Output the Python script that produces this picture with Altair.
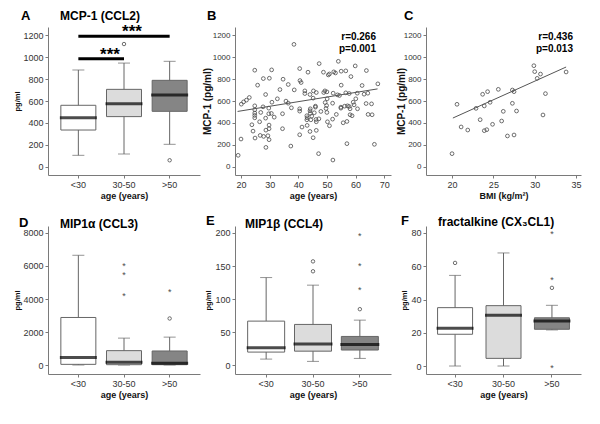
import altair as alt
import pandas as pd

FONT = "Liberation Sans"
AXC = "#7a7a7a"
STROKE = "#666666"
PT = "#4a4a4a"

groups = ["<30", "30-50", ">50"]
box_fills = ["#ffffff", "#dcdcdc", "#858585"]

# ---------------- Panel A: MCP-1 (CCL2) by age group ----------------
a_wlo = [106, 118, 206]
a_q1 = [336, 458, 506]
a_med = [448, 576, 655]
a_q3 = [561, 706, 788]
a_whi = [882, 945, 961]
a_out_group = ["30-50", ">50"]
a_out_val = [1118, 61]
sig_from = ["<30", "<30"]
sig_to = ["30-50", ">50"]
sig_y = [985, 1188]
sig_text = ["***", "***"]
sig_text_at = ["30-50", "30-50"]

# ---------------- Panel B: MCP-1 vs age ----------------
b_age = [19.0, 20.0, 20.1, 20.9, 21.9, 22.9, 24.8, 25.8, 23.8, 24.2, 24.9, 24.8, 24.8, 24.8,
         24.8, 24.8, 26.9, 26.5, 26.7, 27.7, 27.8, 28.6, 28.6, 28.7, 28.7, 27.9, 29.4, 29.9,
         29.7, 29.7, 29.8, 29.8, 29.8, 30.7, 30.8, 30.6, 31.6, 32.7, 33.6, 34.7, 34.5, 34.5,
         35.7, 36.5, 36.5, 37.4, 38.5, 38.6, 37.6, 40.5, 40.6, 41.0, 40.5, 40.5, 40.5, 41.3,
         42.3, 42.3, 43.4, 43.0, 43.1, 43.0, 43.1, 44.1, 44.1, 44.2, 44.2, 44.1, 44.4, 44.7,
         45.3, 45.2, 45.2, 45.6, 46.0, 46.0, 46.3, 46.2, 46.3, 46.3, 47.2, 47.1, 47.3, 47.9,
         48.8, 48.9, 49.3, 49.4, 49.7, 50.0, 50.1, 50.5, 50.9, 50.2, 50.9, 50.0, 49.9, 52.2,
         52.0, 52.0, 52.1, 52.4, 53.0, 53.3, 53.7, 54.0, 54.4, 55.0, 55.0, 54.9, 54.9, 55.7,
         56.2, 56.6, 56.6, 57.0, 57.2, 57.0, 57.8, 57.8, 58.1, 58.1, 58.8, 58.4, 59.2, 59.5,
         59.9, 60.1, 60.7, 60.6, 62.3, 63.0, 63.8, 63.7, 64.3, 64.4, 65.6, 65.8, 66.6, 67.8]
b_mcp = [106, 254, 571, 592, 608, 632, 880, 744, 384, 326, 263, 556, 520, 490,
         469, 447, 496, 411, 287, 547, 804, 659, 444, 335, 178, 278, 284, 807,
         535, 484, 381, 348, 248, 883, 589, 487, 453, 620, 704, 798, 484, 348,
         599, 580, 750, 190, 1115, 701, 538, 895, 786, 768, 529, 508, 293, 363,
         692, 668, 862, 466, 447, 429, 378, 659, 511, 529, 487, 323, 429, 462,
         692, 626, 266, 493, 553, 544, 677, 432, 411, 333, 438, 121, 940, 505,
         862, 677, 692, 586, 532, 683, 620, 837, 846, 411, 375, 496, 559, 671,
         580, 435, 63, 865, 855, 478, 656, 961, 650, 871, 744, 535, 544, 402,
         553, 874, 674, 212, 556, 414, 668, 550, 529, 475, 466, 822, 589, 565,
         919, 620, 529, 671, 741, 662, 877, 577, 671, 478, 574, 475, 206, 756]
b_fit_age = [18.8, 67.7]
b_fit_mcp = [505, 710]
b_stats = ["r=0.266", "p=0.001"]

# ---------------- Panel C: MCP-1 vs BMI ----------------
c_bmi = [20.0, 20.6, 21.1, 21.9, 22.9, 23.4, 23.7, 23.9, 23.9, 24.2, 24.3, 24.6, 24.9, 25.6,
         26.2, 26.0, 26.7, 27.3, 27.5, 27.3, 27.5, 27.8, 29.9, 30.0, 30.3, 30.7, 31.0, 31.3, 33.8]
c_mcp = [121, 570, 364, 336, 533, 430, 661, 555, 330, 339, 685, 588, 388, 706,
         506, 418, 282, 700, 685, 579, 291, 509, 921, 867, 806, 845, 473, 667, 864]
c_fit_bmi = [20.1, 33.8]
c_fit_mcp = [445, 909]
c_stats = ["r=0.436", "p=0.013"]

# ---------------- Panel D: MIP1a (CCL3) ----------------
d_wlo = [0, 0, 0]
d_q1 = [40, 20, 20]
d_med = [460, 160, 100]
d_q3 = [2880, 870, 850]
d_whi = [6650, 1630, 1690]
d_out_group = [">50"]
d_out_val = [2820]
d_ext_group = ["30-50", "30-50", "30-50", ">50"]
d_ext_val = [6110, 5600, 4330, 4560]

# ---------------- Panel E: MIP1b (CCL4) ----------------
e_wlo = [9, 5.5, 10]
e_q1 = [19.6, 21, 22.7]
e_med = [26, 32, 31]
e_q3 = [66.5, 61.5, 43.3]
e_whi = [132.5, 121, 68]
e_out_group = ["30-50", "30-50", ">50"]
e_out_val = [157, 142, 84.6]
e_ext_group = [">50", ">50", ">50"]
e_ext_val = [199, 152.6, 116.4]

# ---------------- Panel F: fractalkine (CX3CL1) ----------------
f_wlo = [0, 0, 21.7]
f_q1 = [19.1, 4.6, 22.1]
f_med = [22.7, 30.5, 27.1]
f_q3 = [35.1, 36.3, 29.0]
f_whi = [54.5, 68, 36.5]
f_out_group = ["<30", ">50"]
f_out_val = [62, 47]
f_ext_group = [">50", ">50", ">50"]
f_ext_val = [80.5, 53, 0]


def label_layers(letter, lx, ly, title, tx, ty):
    lab = alt.Chart(pd.DataFrame({"t": [letter]})).mark_text(
        font=FONT, fontSize=13, fontWeight="bold", align="left", baseline="alphabetic", color="#000"
    ).encode(text="t:N", x=alt.value(lx), y=alt.value(ly))
    layers = [lab]
    if title:
        tt = alt.Chart(pd.DataFrame({"t": [title]})).mark_text(
            font=FONT, fontSize=12, fontWeight="bold", align="left", baseline="alphabetic", color="#000"
        ).encode(text="t:N", x=alt.value(tx), y=alt.value(ty))
        layers.append(tt)
    return layers


def x_band(field, pad_out=0.315):
    return alt.X(f"{field}:N", sort=groups,
                 scale=alt.Scale(domain=groups, paddingInner=0.3, paddingOuter=pad_out),
                 axis=alt.Axis(title="age (years)", labelAngle=0))


def box_panel(letter, lx, ly, title, tx, ty, wlo, q1, med, q3, whi, out_g, out_v, ext_g, ext_v,
              ydom, yticks, width, ytx, box_w, pad_out=0.315, extra=None):
    df = pd.DataFrame({"group": groups, "wlo": wlo, "q1": q1, "med": med, "q3": q3, "whi": whi})
    X = x_band("group", pad_out)
    ys = alt.Scale(domain=ydom, nice=False, zero=False)
    yax = alt.Axis(values=yticks, format="d", title="pg/ml", titleX=ytx, titleFontSize=7.5, labelFontSize=9)

    def Y(f):
        return alt.Y(f"{f}:Q", scale=ys, axis=yax)

    base = alt.Chart(df)
    whisk = base.mark_rule(color=STROKE, strokeWidth=1).encode(x=X, y=Y("wlo"), y2="whi:Q")
    cap_lo = base.mark_tick(color=STROKE, size=12, thickness=1).encode(x=X, y=Y("wlo"))
    cap_hi = base.mark_tick(color=STROKE, size=12, thickness=1).encode(x=X, y=Y("whi"))
    box = base.mark_bar(size=box_w, stroke=STROKE, strokeWidth=1).encode(
        x=X, y=Y("q1"), y2="q3:Q",
        color=alt.Color("group:N", scale=alt.Scale(domain=groups, range=box_fills), legend=None))
    medl = base.mark_tick(color="#000", size=box_w + 2, thickness=3).encode(x=X, y=Y("med"))
    layers = [whisk, cap_lo, cap_hi, box, medl]
    if out_g:
        odf = pd.DataFrame({"group": out_g, "v": out_v})
        layers.append(alt.Chart(odf).mark_point(shape="circle", filled=False, size=12, color=PT,
                                                 strokeWidth=0.8, opacity=1).encode(x=X, y=Y("v")))
    if ext_g:
        edf = pd.DataFrame({"group": ext_g, "v": ext_v})
        layers.append(alt.Chart(edf).mark_text(text="*", font=FONT, fontSize=9, color=PT,
                                                baseline="middle", dy=2).encode(x=X, y=Y("v")))
    if extra:
        layers += extra(Y)
    layers += label_layers(letter, lx, ly, title, tx, ty)
    return alt.layer(*layers).properties(width=width, height=148)


def sig_layers(Y):
    sdf = pd.DataFrame({"g1": sig_from, "g2": sig_to, "sy": sig_y, "t": sig_text, "ga": sig_text_at})
    rule = alt.Chart(sdf).mark_rule(color="#000", strokeWidth=3).encode(
        x=alt.X("g1:N", bandPosition=0.5, sort=groups,
                scale=alt.Scale(domain=groups, paddingInner=0.3, paddingOuter=0.315),
                axis=alt.Axis(title="age (years)", labelAngle=0)),
        x2=alt.X2("g2:N", bandPosition=0.5),
        y=Y("sy"))
    s1 = alt.Chart(sdf.iloc[[0]]).mark_text(font=FONT, fontSize=17, fontWeight="bold", color="#000",
                                            baseline="alphabetic", dx=-14, dy=1).encode(
        x=x_band("ga"), y=Y("sy"), text="t:N")
    s2 = alt.Chart(sdf.iloc[[1]]).mark_text(font=FONT, fontSize=17, fontWeight="bold", color="#000",
                                            baseline="alphabetic", dx=8, dy=1).encode(
        x=x_band("ga"), y=Y("sy"), text="t:N")
    return [rule, s1, s2]


def scatter_panel(letter, lx, ly, xs, ys, fx, fy, stats, xdom, xticks, xtitle, width, ytx, sx):
    df = pd.DataFrame({"x": xs, "y": ys})
    xsc = alt.Scale(domain=xdom, nice=False, zero=False)
    ysc = alt.Scale(domain=[-73, 1273], nice=False, zero=False)
    xax = alt.Axis(values=xticks, format="d", title=xtitle)
    yax = alt.Axis(values=[0, 200, 400, 600, 800, 1000, 1200], format="d", title="MCP-1 (pg/ml)",
                   titleX=ytx, titleFontSize=10, labelFontSize=8)
    pts = alt.Chart(df).mark_point(shape="circle", filled=False, size=14, color=PT, strokeWidth=0.8,
                                   opacity=1).encode(
        x=alt.X("x:Q", scale=xsc, axis=xax), y=alt.Y("y:Q", scale=ysc, axis=yax))
    fdf = pd.DataFrame({"x": fx, "y": fy})
    fit = alt.Chart(fdf).mark_line(color="#555", strokeWidth=1).encode(
        x=alt.X("x:Q", scale=xsc, axis=xax), y=alt.Y("y:Q", scale=ysc, axis=yax))
    st1 = alt.Chart(pd.DataFrame({"t": [stats[0]]})).mark_text(
        font=FONT, fontSize=10, fontWeight="bold", align="right", baseline="alphabetic", color="#000").encode(
        text="t:N", x=alt.value(sx), y=alt.value(13))
    st2 = alt.Chart(pd.DataFrame({"t": [stats[1]]})).mark_text(
        font=FONT, fontSize=10, fontWeight="bold", align="right", baseline="alphabetic", color="#000").encode(
        text="t:N", x=alt.value(sx), y=alt.value(25))
    layers = [pts, fit, st1, st2] + label_layers(letter, lx, ly, None, 0, 0)
    return alt.layer(*layers).properties(width=width, height=148)


pA = box_panel("A", -27, -7.5, "MCP-1 (CCL2)", 12, -7.5, a_wlo, a_q1, a_med, a_q3, a_whi,
               a_out_group, a_out_val, None, None, [-73, 1273], [0, 200, 400, 600, 800, 1000, 1200],
               152, -27, 35, extra=sig_layers)
pB = scatter_panel("B", -28, -7.5, b_age, b_mcp, b_fit_age, b_fit_mcp, b_stats, [17.9, 72.4],
                   [20, 30, 40, 50, 60, 70], "age (years)", 156, -23, 141)
pC = scatter_panel("C", -22, -7.5, c_bmi, c_mcp, c_fit_bmi, c_fit_mcp, c_stats, [16.85, 35.6],
                   [20, 25, 30, 35], "BMI (kg/m²)", 155, -20, 147)
pD = box_panel("D", -29, 1, "MIP1α (CCL3)", 12, 2, d_wlo, d_q1, d_med, d_q3, d_whi,
               d_out_group, d_out_val, d_ext_group, d_ext_val, [-545, 8424], [0, 2000, 4000, 6000, 8000],
               152, -27, 35)
pE = box_panel("E", -29, -1, "MIP1β (CCL4)", 10, 2, e_wlo, e_q1, e_med, e_q3, e_whi,
               e_out_group, e_out_val, e_ext_group, e_ext_val, [-13.6, 210.6], [0, 50, 100, 150, 200],
               156, -23, 37)
pF = box_panel("F", -25, -1, "fractalkine (CX₃CL1)", 12, 0, f_wlo, f_q1, f_med, f_q3, f_whi,
               f_out_group, f_out_val, f_ext_group, f_ext_val, [-4.8, 84.2], [0, 20, 40, 60, 80],
               155, -18, 35, pad_out=0.25)

chart = alt.concat(pA, pB, pC, pD, pE, pF, columns=3,
                   spacing={"row": 51, "column": 35}).properties(
    align="each", bounds="flush", padding={"left": 5, "top": 1, "right": 5, "bottom": 5}
).configure_view(stroke=None).configure_axis(
    grid=False, domainColor=AXC, tickColor=AXC, tickSize=3, labelFont=FONT, labelColor="#333",
    labelFontSize=9, labelPadding=2, titleFont=FONT, titleFontWeight="bold", titleColor="#111",
    titleFontSize=9, titlePadding=2
).configure_axisX(labelFontSize=9)

chart.save("out.html", embed_options={"renderer": "svg", "actions": False})
